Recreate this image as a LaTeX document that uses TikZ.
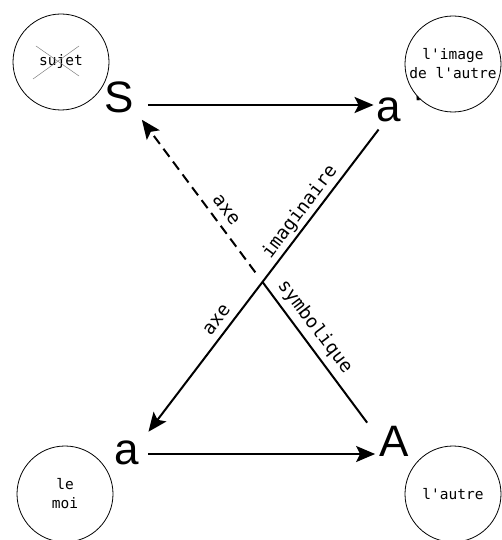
\documentclass[tikz,border=0pt]{standalone}
\usepackage{fontspec}
\setmonofont{DejaVu Sans Mono}
\newfontfamily\letterfont{Liberation Sans}
\usepackage{tikz}
\usetikzlibrary{calc,arrows.meta,positioning}
\tikzset{
  ar/.style={-{Stealth[length=19pt,width=16pt,inset=4pt]},line width=2pt},
  letter/.style={font=\letterfont\fontsize{44}{44}\selectfont,inner sep=0pt},
  bubble/.style={draw,circle,fill=white,line width=0.8pt,minimum size=96pt,inner sep=0pt,align=center,font=\ttfamily\fontsize{14.5}{19}\selectfont},
  axelbl/.style={font=\ttfamily\fontsize{18.5}{20}\selectfont,inner sep=0pt}
}

\begin{document}
\begin{tikzpicture}[x=1pt,y=-1pt]
\useasboundingbox (0,0) rectangle (502,540);
% the four letters
\node[letter] (S) at (119,97) {S};
\node[letter] (ap) at (389,107) {a\rlap{\hspace{13pt}'}};
\node[letter] (am) at (127,453) {a};
\node[letter] (A) at (394,441) {A};
% the bubbles
\node[bubble] (sujet) at (61,62) {sujet};
\draw[gray,line width=0.5pt] ($(sujet)+(-25,-16)$) -- ($(sujet)+(18,14)$);
\draw[gray,line width=0.5pt] ($(sujet)+(18,-16)$) -- ($(sujet)+(-28,17)$);
\node[bubble] (image) at (453,64) {l'image\\de l'autre};
\node[bubble] (moi) at (65,494) {le\\moi};
\node[bubble] (autre) at (453,494) {l'autre};
% the axes
\coordinate (imA) at ([xshift=2pt,yshift=-7pt]ap.south west);
\coordinate (imB) at ([xshift=9pt,yshift=9pt]am.north east);
\coordinate (symA) at ([xshift=-12pt,yshift=3pt]A.north west);
\coordinate (symS) at ([xshift=8pt,yshift=-7pt]S.south east);
\coordinate (X) at (intersection of symA--symS and imA--imB);
\draw[ar] ([xshift=14pt,yshift=-8pt]S.east) -- ([xshift=-3pt,yshift=2pt]ap.west);
\draw[ar] ([xshift=9pt,yshift=-1pt]am.east) -- ([xshift=-4pt,yshift=-13pt]A.west);
\draw[ar] (imA) -- (imB);
\draw[line width=2pt] (symA) -- (X);
\draw[ar,dash pattern=on 10pt off 6pt,shorten <=12pt] (X) -- (symS);
% labels
\node[axelbl,rotate=53] (imag) at (300,212) {imaginaire};
\node[axelbl,rotate=53] (axeim) at (217,320) {axe};
\node[axelbl,rotate=-53] (axesym) at (226,210) {axe};
\node[axelbl,rotate=-53] (symb) at (315,327) {symbolique};
\end{tikzpicture}
\end{document}
